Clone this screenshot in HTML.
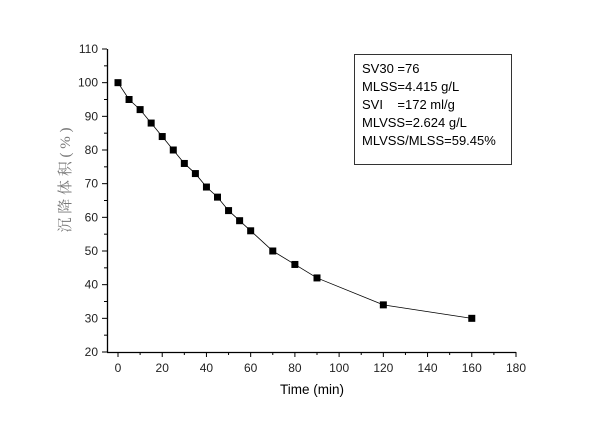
<!DOCTYPE html>
<html><head><meta charset="utf-8"><style>
body{margin:0;background:#fff}
svg{display:block;font-family:"Liberation Sans",Arial,sans-serif}
</style></head><body>
<svg id="chart" width="600" height="423" viewBox="0 0 600 423">
<rect width="600" height="423" fill="#fff"/>
<g id="axes"></g>
<g id="series"></g>
<g>
<rect x="354.5" y="54.5" width="157" height="110" fill="#fff" stroke="#333" stroke-width="1"/>
<g font-size="13" fill="#000">
<text x="362" y="73">SV30 =76</text>
<text x="362" y="91">MLSS=4.415 g/L</text>
<text x="362" y="109">SVI&#160;&#160;&#160;&#160;=172 ml/g</text>
<text x="362" y="127">MLVSS=2.624 g/L</text>
<text x="362" y="145">MLVSS/MLSS=59.45%</text>
</g>
</g>
<text x="312" y="394" font-size="13.5" text-anchor="middle">Time (min)</text>
<text transform="translate(70,180) rotate(-90)" font-size="15" text-anchor="middle" fill="#777" font-family="'Liberation Serif','Noto Serif CJK SC',serif">沉 降 体 积 ( % )</text>
</svg>
<script>
const times=[0,5,10,15,20,25,30,35,40,45,50,55,60,70,80,90,120,160];
const volumes=[100,95,92,88,84,80,76,73,69,66,62,59,56,50,46,42,34,30];
const xTicks=[0,20,40,60,80,100,120,140,160,180];
const yTicks=[20,30,40,50,60,70,80,90,100,110];
const NS="http://www.w3.org/2000/svg";
const X0=118,XS=(516-118)/180,Y20=352,YS=(352-49)/90;
function sx(v){return X0+v*XS;}
function sy(v){return Y20-(v-20)*YS;}
const axes=document.getElementById('axes');
function mk(t,a,p){const e=document.createElementNS(NS,t);for(const k in a)e.setAttribute(k,a[k]);(p||axes).appendChild(e);return e;}
let e=mk('line',{x1:107,y1:352.5,x2:516,y2:352.5,stroke:'#000','stroke-width':1.3});


e=mk('line',{x1:107.5,y1:49,x2:107.5,y2:352,stroke:'#000','stroke-width':1.3});


for(let v=0;v<=180;v+=10){const x=sx(v);const maj=v%20===0;mk('line',{x1:x,y1:352,x2:x,y2:352+(maj?5:3),stroke:'#000'});}
xTicks.forEach(v=>{const t=mk('text',{x:sx(v),y:372,'font-size':12,'text-anchor':'middle',fill:'#222'});t.textContent=v;

});
for(let v=20;v<=110;v+=5){const y=sy(v);const maj=v%10===0;mk('line',{x1:107,y1:y,x2:107-(maj?5:3),y2:y,stroke:'#000'});}
yTicks.forEach(v=>{const t=mk('text',{x:98,y:sy(v)+4,'font-size':12,'text-anchor':'end',fill:'#222'});t.textContent=v;

});
const ser=document.getElementById('series');
const pl=mk('polyline',{points:times.map((t,i)=>sx(t)+','+sy(volumes[i])).join(' '),fill:'none',stroke:'#000','stroke-width':0.8},ser);


times.forEach((t,i)=>{const r=mk('rect',{x:sx(t)-3.5,y:sy(volumes[i])-3.5,width:7,height:7,fill:'#000'},ser);

});
</script>
</body></html>
